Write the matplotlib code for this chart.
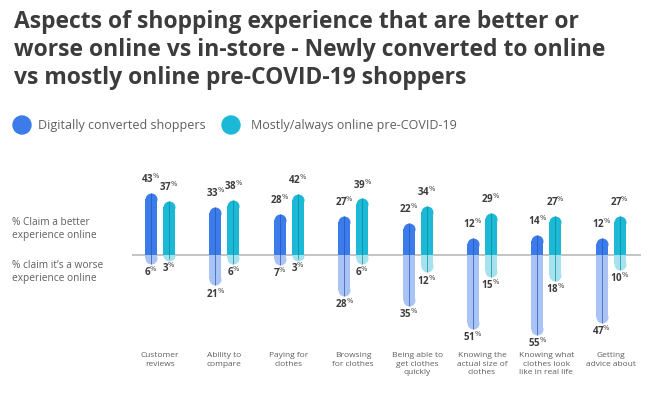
import numpy as np
import matplotlib
matplotlib.use('Agg')
import matplotlib.pyplot as plt

# ---------------------------------------------------------------
# Data
# ---------------------------------------------------------------
categories = [
    "Customer\nreviews",
    "Ability to\ncompare",
    "Paying for\nclothes",
    "Browsing\nfor clothes",
    "Being able to\nget clothes\nquickly",
    "Knowing the\nactual size of\nclothes",
    "Knowing what\nclothes look\nlike in real life",
    "Getting\nadvice about",
]
better_converted = [43, 33, 28, 27, 22, 12, 14, 12]
better_online = [37, 38, 42, 39, 34, 29, 27, 27]
worse_converted = [6, 21, 7, 28, 35, 51, 55, 47]
worse_online = [3, 6, 3, 6, 12, 15, 18, 10]

series_names = ["Digitally converted shoppers", "Mostly/always online pre-COVID-19"]

TITLE = ("Aspects of shopping experience that are better or\n"
         "worse online vs in-store - Newly converted to online\n"
         "vs mostly online pre-COVID-19 shoppers")

# ---------------------------------------------------------------
# Style
# ---------------------------------------------------------------
FONT = ["Open Sans", "DejaVu Sans"]
BLUE, BLUE_LIGHT, BLUE_LINE = "#3b7bea", "#a9c4f4", "#2455b0"
TEAL, TEAL_LIGHT, TEAL_LINE = "#1cb9d6", "#a5e2ee", "#0d8699"
TEXT_DARK = "#3c3c3c"
TEXT_GRAY = "#5f5f5f"

W, H, DPI = 650, 403, 100
PX_PER_UNIT_X = 64.4     # pixels between groups
PX_PER_PCT = 1.45        # pixels per percentage point
X0_PX = 160              # pixel position of first group
BASE_PX = 255            # pixel position (from top) of baseline

plt.rcParams["font.family"] = FONT
fig = plt.figure(figsize=(W / DPI, H / DPI), dpi=DPI)
ax = fig.add_axes([0, 0, 1, 1])
ax.set_xlim(-X0_PX / PX_PER_UNIT_X, (W - X0_PX) / PX_PER_UNIT_X)
ax.set_ylim(-(H - BASE_PX) / PX_PER_PCT, BASE_PX / PX_PER_PCT)
ax.axis("off")

x = np.arange(len(categories))
off = 9 / PX_PER_UNIT_X
bar_w = 12 / PX_PER_UNIT_X
r = 6 / PX_PER_PCT                      # cap radius in %
cap_size = (12 * 72 / DPI) ** 2         # scatter size for 12 px circle

# baseline
ax.plot([(133 - X0_PX) / PX_PER_UNIT_X, (640 - X0_PX) / PX_PER_UNIT_X], [0, 0],
        color="#c4c4c4", lw=1.4, zorder=1)


def pill(xs, vals, sign, color, z):
    vals = np.asarray(vals, dtype=float)
    ends = sign * np.maximum(vals - r, 0)
    ax.bar(xs, ends, width=bar_w, color=color, zorder=z, linewidth=0)
    ax.scatter(xs, ends, s=cap_size, color=color, zorder=z, linewidths=0)


# negative (worse) bars first, positive on top
pill(x - off, worse_converted, -1, BLUE_LIGHT, 2)
pill(x + off, worse_online, -1, TEAL_LIGHT, 2)
pill(x - off, better_converted, 1, BLUE, 3)
pill(x + off, better_online, 1, TEAL, 3)

# thin centre lines
ax.vlines(x - off, [-v for v in worse_converted], better_converted,
          color=BLUE_LINE, lw=0.7, alpha=0.7, zorder=4)
ax.vlines(x + off, [-v for v in worse_online], better_online,
          color=TEAL_LINE, lw=0.7, alpha=0.7, zorder=4)


def label(xp, v, above):
    ax.annotate(f"{v}" + r"$^{\%}$", (xp, v if above else -v),
                xytext=(0, 5 if above else -1), textcoords="offset points",
                ha="center", va="bottom" if above else "top",
                fontsize=7, fontweight="bold", color=TEXT_DARK, zorder=5)


for i in range(len(categories)):
    label(x[i] - off, better_converted[i], True)
    label(x[i] + off, better_online[i], True)
    label(x[i] - off, worse_converted[i], False)
    label(x[i] + off, worse_online[i], False)

# category labels
for i, cat in enumerate(categories):
    ax.text(x[i], -(352 - BASE_PX) / PX_PER_PCT, cat, ha="center", va="top",
            fontsize=6, color=TEXT_GRAY, linespacing=1.35)

# row labels
fig.text(12 / W, 1 - 217 / H, "% Claim a better\nexperience online",
         ha="left", va="top", fontsize=7.3, color=TEXT_GRAY, linespacing=1.3)
fig.text(12 / W, 1 - 260 / H, "% claim it\u2019s a worse\nexperience online",
         ha="left", va="top", fontsize=7.3, color=TEXT_GRAY, linespacing=1.3)

# title
fig.text(14 / W, 1 - 10 / H, TITLE, ha="left", va="top", fontsize=16.5,
         fontweight="bold", color=TEXT_DARK, linespacing=1.22)

# legend
for cx, tx, col, name in [(22, 38, BLUE, series_names[0]),
                          (231, 251, TEAL, series_names[1])]:
    fig.patches.append(matplotlib.patches.Ellipse(
        (cx / W, 1 - 125 / H), 18 / W, 18 / H, transform=fig.transFigure,
        color=col, figure=fig))
    fig.text(tx / W, 1 - 125 / H, name, ha="left", va="center",
             fontsize=9, color=TEXT_GRAY)

fig.savefig("out.png", dpi=DPI)
plt.close(fig)
